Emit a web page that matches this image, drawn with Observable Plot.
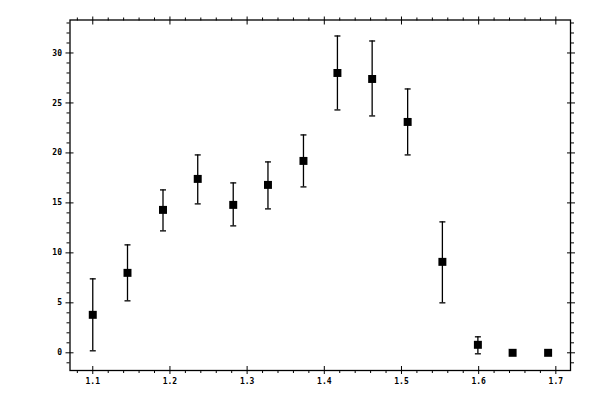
<!DOCTYPE html>
<html>
<head>
<meta charset="utf-8">
<script src="https://cdn.jsdelivr.net/npm/d3@7"></script>
<script src="https://cdn.jsdelivr.net/npm/@observablehq/plot@0.6"></script>
<style>
  html, body { margin: 0; padding: 0; background: #fff; }
</style>
</head>
<body>
<div id="chart"></div>
<script>
const xs   = [1.1, 1.145, 1.191, 1.236, 1.282, 1.327, 1.373, 1.417, 1.462, 1.508, 1.553, 1.599, 1.644, 1.690];
const ys   = [3.8, 8.0, 14.3, 17.4, 14.8, 16.8, 19.2, 28.0, 27.4, 23.1, 9.1, 0.8, 0, 0];
const lows = [0.2, 5.2, 12.2, 14.9, 12.7, 14.4, 16.6, 24.3, 23.7, 19.8, 5.0, -0.1, 0, 0];
const highs= [7.4, 10.8, 16.3, 19.8, 17.0, 19.1, 21.8, 31.7, 31.2, 26.4, 13.1, 1.6, 0, 0];

const xMajor = [1.1, 1.2, 1.3, 1.4, 1.5, 1.6, 1.7];
const xMinor = [1.08,1.12,1.14,1.16,1.18,1.22,1.24,1.26,1.28,1.32,1.34,1.36,1.38,1.42,1.44,1.46,1.48,1.52,1.54,1.56,1.58,1.62,1.64,1.66,1.68];
const yMajor = [0, 5, 10, 15, 20, 25, 30];
const yMinor = [-1,1,2,3,4,6,7,8,9,11,12,13,14,16,17,18,19,21,22,23,24,26,27,28,29,31,32,33];

const data = xs.map((x, i) => ({x, y: ys[i], lo: lows[i], hi: highs[i]}));

const cap = { draw(ctx) { ctx.moveTo(-3, 0); ctx.lineTo(3, 0); } };
const noText = () => "";

const chart = Plot.plot({
  width: 600,
  height: 400,
  marginLeft: 69.5,
  marginRight: 30,
  marginTop: 19.5,
  marginBottom: 30,
  style: { fontFamily: "'DejaVu Sans Mono', monospace", fontSize: "8px", fontWeight: "bold", background: "#fff", color: "#000" },
  x: { domain: [1.0705, 1.719], axis: null },
  y: { domain: [-1.77, 33.3], axis: null },
  marks: [
    // bottom axis
    Plot.axisX({anchor: "bottom", ticks: xMajor, tickSize: 8, dy: -4, tickFormat: noText, label: null}),
    Plot.axisX({anchor: "bottom", ticks: xMinor, tickSize: 3, tickFormat: noText, label: null}),
    Plot.axisX({anchor: "bottom", ticks: xMajor, tickSize: 0, tickPadding: 8, tickFormat: d => d.toFixed(1), label: null}),
    // top axis
    Plot.axisX({anchor: "top", ticks: xMajor, tickSize: 8, dy: 4, tickFormat: noText, label: null}),
    Plot.axisX({anchor: "top", ticks: xMinor, tickSize: 3, tickFormat: noText, label: null}),
    // left axis
    Plot.axisY({anchor: "left", ticks: yMajor, tickSize: 8, dx: 4, tickFormat: noText, label: null}),
    Plot.axisY({anchor: "left", ticks: yMinor, tickSize: 3, tickFormat: noText, label: null}),
    Plot.axisY({anchor: "left", ticks: yMajor, tickSize: 0, tickPadding: 8, tickFormat: d => String(d), label: null}),
    // right axis
    Plot.axisY({anchor: "right", ticks: yMajor, tickSize: 8, dx: -4, tickFormat: noText, label: null}),
    Plot.axisY({anchor: "right", ticks: yMinor, tickSize: 3, tickFormat: noText, label: null}),
    Plot.frame({stroke: "#000", strokeWidth: 1.3}),
    // error bars
    Plot.ruleX(data, {x: "x", y1: "lo", y2: "hi", stroke: "#000", strokeWidth: 1.3}),
    Plot.dot(data, {x: "x", y: "lo", symbol: cap, stroke: "#000", fill: "none", strokeWidth: 1.3}),
    Plot.dot(data, {x: "x", y: "hi", symbol: cap, stroke: "#000", fill: "none", strokeWidth: 1.3}),
    // markers
    Plot.dot(data, {x: "x", y: "y", symbol: "square", r: 4.5, fill: "#000", stroke: "none"})
  ]
});
document.getElementById("chart").appendChild(chart);
</script>
</body>
</html>
